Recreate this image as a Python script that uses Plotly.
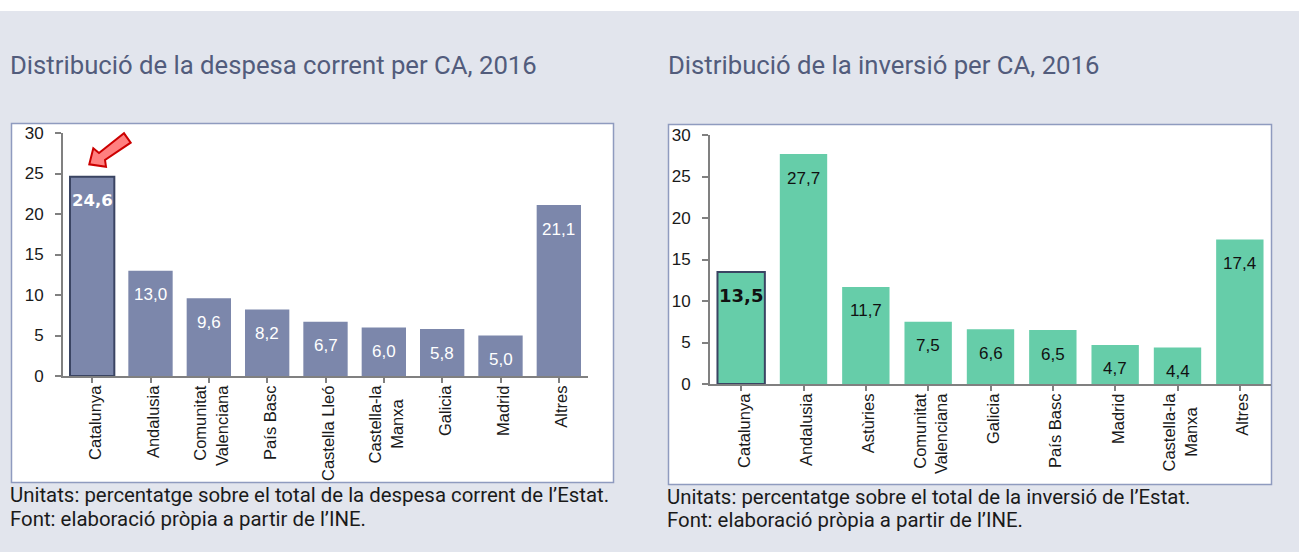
import plotly.graph_objects as go

W, H = 1299, 552
BG = "#E2E5ED"
BOX = "#8F9BBF"
AXIS = "#808080"
TITLE = "#525C7C"
TXT = "#1A1A1A"

cats_a = ["Catalunya", "Andalusia", "Comunitat<br>Valenciana", "País Basc", "Castella Lleó",
          "Castella-la<br>Manxa\u00a0\u00a0\u00a0", "Galicia", "Madrid", "Altres"]
vals_a = [24.6, 13.0, 9.6, 8.2, 6.7, 6.0, 5.8, 5.0, 21.1]
labels_a = ["24,6", "13,0", "9,6", "8,2", "6,7", "6,0", "5,8", "5,0", "21,1"]

cats_b = ["Catalunya", "Andalusia", "Astùries", "Comunitat<br>Valenciana", "Galicia",
          "País Basc", "Madrid", "Castella-la<br>Manxa\u00a0\u00a0\u00a0", "Altres"]
vals_b = [13.5, 27.7, 11.7, 7.5, 6.6, 6.5, 4.7, 4.4, 17.4]
labels_b = ["13,5", "27,7", "11,7", "7,5", "6,6", "6,5", "4,7", "4,4", "17,4"]

yticks = [0, 5, 10, 15, 20, 25, 30]

def px(x): return x / W
def py(y): return 1 - y / H

fig = go.Figure()

def rect(x0, y0, x1, y1, fill, line=None, lw=0):
    fig.add_shape(type="rect", xref="paper", yref="paper", x0=px(x0), x1=px(x1), y0=py(y1), y1=py(y0),
                  fillcolor=fill, line=dict(color=line or fill, width=lw), layer="below")

rect(0, 11, W, H, BG)
rect(11.5, 123.5, 613.5, 482.5, "white", BOX, 1.5)
rect(668.5, 124.5, 1271.5, 484.5, "white", BOX, 1.5)

def bars(cats, vals, labels, color, edge, xa, ya, label_color, bold_size):
    n = len(cats)
    fig.add_trace(go.Bar(
        x=list(range(n)), y=vals, xaxis=xa, yaxis=ya, width=0.76,
        marker=dict(color=color,
                    line=dict(color=[edge] + [color] * (n - 1), width=[2] + [0] * (n - 1))),
        showlegend=False, hoverinfo="skip"))
    for i, (v, t) in enumerate(zip(vals, labels)):
        bold = i == 0
        fig.add_annotation(x=i, y=v, xref=xa, yref=ya, text=f"<b>{t}</b>" if bold else t,
                           showarrow=False, yshift=-24,
                           font=dict(family="DejaVu Sans" if bold else "Liberation Sans",
                                     size=bold_size if bold else 17, color=label_color))

bars(cats_a, vals_a, labels_a, "#7C87AB", "#3A4462", "x", "y", "white", 16.5)
bars(cats_b, vals_b, labels_b, "#66CDA9", "#3A4462", "x2", "y2", "#111111", 18)

def axes(cats, xdom, ydom):
    xa = dict(domain=xdom, range=[-0.5, len(cats) - 0.5], tickmode="array",
              tickvals=list(range(len(cats))), ticktext=cats, tickangle=-90,
              tickson="boundaries", ticks="outside", ticklen=5, tickwidth=2, tickcolor=AXIS,
              ticklabelstandoff=-4, ticklabelshift=3,
              showline=True, linecolor=AXIS, linewidth=2, showgrid=False, zeroline=False,
              tickfont=dict(family="Liberation Sans", size=16.5, color=TXT))
    ya = dict(domain=ydom, range=[0, 30], tickmode="array", tickvals=yticks,
              ticks="outside", ticklen=6, tickwidth=2, tickcolor=AXIS, ticklabelstandoff=8,
              showline=True, linecolor=AXIS, linewidth=2, showgrid=False, zeroline=False,
              tickfont=dict(family="Liberation Sans", size=17, color=TXT))
    return xa, ya

xa1, ya1 = axes(cats_a, [px(63), px(588)], [py(376), py(133)])
xa2, ya2 = axes(cats_b, [px(710), px(1271)], [py(384), py(135)])
ya2["anchor"] = "x2"; xa2["anchor"] = "y2"

def text(x, y, s, size, color, family):
    fig.add_annotation(xref="paper", yref="paper", x=px(x), y=py(y), text=s, showarrow=False,
                       xanchor="left", yanchor="middle", align="left",
                       font=dict(family=family, size=size, color=color))

FONT = "Roboto"
text(8, 65, "Distribució de la despesa corrent per CA, 2016", 25.7, TITLE, FONT)
text(666, 65, "Distribució de la inversió per CA, 2016", 25.7, TITLE, FONT)
text(8, 495, "Unitats: percentatge sobre el total de la despesa corrent de l’Estat.", 20.4, TXT, FONT)
text(8, 519, "Font: elaboració pròpia a partir de l’INE.", 20.4, TXT, FONT)
text(665, 497, "Unitats: percentatge sobre el total de la inversió de l’Estat.", 20.4, TXT, FONT)
text(665, 520, "Font: elaboració pròpia a partir de l’INE.", 20.4, TXT, FONT)

arrow = [(89.3, 164.3), (93.3, 148.3), (99, 153), (124, 133.3), (130.7, 142.7), (105, 160), (106, 166.7)]
path = "M " + " L ".join(f"{px(x):.5f} {py(y):.5f}" for x, y in arrow) + " Z"
fig.add_shape(type="path", xref="paper", yref="paper", path=path, fillcolor="#FF8080",
              line=dict(color="#CC0000", width=2), layer="above")

fig.update_layout(width=W, height=H, margin=dict(l=0, r=0, t=0, b=0, autoexpand=False), paper_bgcolor="white",
                  plot_bgcolor="rgba(0,0,0,0)", bargap=0.24,
                  xaxis=xa1, yaxis=ya1, xaxis2=xa2, yaxis2=ya2)

fig.write_html("out.html", config={"displayModeBar": False},
               post_script="document.body.style.margin='0';")
